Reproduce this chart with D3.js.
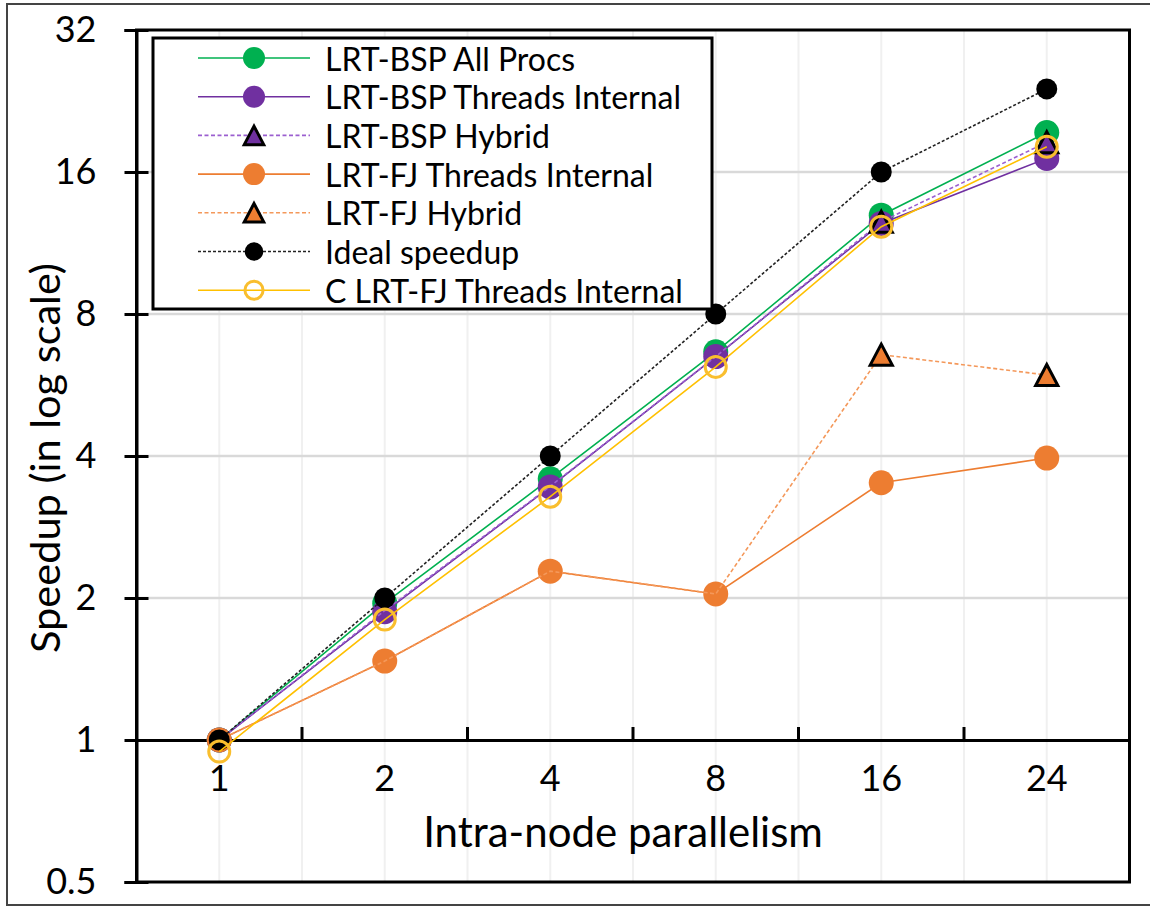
<!DOCTYPE html>
<html>
<head>
<meta charset="utf-8">
<script src="https://cdn.jsdelivr.net/npm/d3@7"></script>
<style>
  html, body { margin: 0; padding: 0; background: #fff; }
  svg { display: block; font-family: Lato, "Open Sans", sans-serif; }
</style>
</head>
<body>
<svg id="chart" width="1150" height="906"></svg>
<script>
// ---------- data ----------
const categories = ["1", "2", "4", "8", "16", "24"];
const yTicks = [0.5, 1, 2, 4, 8, 16, 32];
const bspAllProcs      = [1, 1.95, 3.58, 6.65, 12.96, 19.4];
const bspThreads       = [1, 1.87, 3.44, 6.5, 12.45, 17.1];
const bspHybrid        = [1, 1.88, 3.45, 6.5, 12.55, 18.5];
const bspHybridMarked  = [false, false, false, false, true, true];
const fjThreads        = [1, 1.47, 2.28, 2.04, 3.51, 3.96];
const fjHybrid         = [1, 1.47, 2.28, 2.04, 6.56, 5.94];
const fjHybridMarked   = [false, false, false, false, true, true];
const idealSpeedup     = [1, 2, 4, 8, 16, 24];
const cFjThreads       = [0.945, 1.80, 3.28, 6.18, 12.25, 18.1];

const seriesNames = [
  "LRT-BSP All Procs",
  "LRT-BSP Threads Internal",
  "LRT-BSP Hybrid",
  "LRT-FJ Threads Internal",
  "LRT-FJ Hybrid",
  "Ideal speedup",
  "C LRT-FJ Threads Internal"
];

// styles (separate from data)
const series = [
  {name: seriesNames[0], values: bspAllProcs, color: "#00B050", dash: null, marker: "circle", fill: "#00B050", stroke: "none", r: 12.5},
  {name: seriesNames[1], values: bspThreads, color: "#7030A0", dash: null, marker: "circle", fill: "#7030A0", stroke: "none", r: 12.5},
  {name: seriesNames[2], values: bspHybrid, marked: bspHybridMarked, color: "#9B5FD0", dash: "4,2.5", marker: "triangle", fill: "#7030A0", stroke: "#000", r: 12},
  {name: seriesNames[3], values: fjThreads, color: "#ED7D31", dash: null, marker: "circle", fill: "#ED7D31", stroke: "none", r: 12.5},
  {name: seriesNames[4], values: fjHybrid, marked: fjHybridMarked, color: "#F4985A", dash: "4,2.5", marker: "triangle", fill: "#ED7D31", stroke: "#000", r: 12},
  {name: seriesNames[5], values: idealSpeedup, color: "#222", dash: "3,2", marker: "circle", fill: "#000", stroke: "none", r: 10.5},
  {name: seriesNames[6], values: cFjThreads, color: "#FFC000", dash: null, marker: "ring", fill: "none", stroke: "#F9BE2E", r: 12}
];

// ---------- layout ----------
const svg = d3.select("#chart");
const plot = {left: 136.5, right: 1129.5, top: 30, bottom: 882};

const x = d3.scaleBand().domain(categories).range([plot.left, plot.right]).padding(0);
const xc = c => x(c) + x.bandwidth() / 2;
const y = d3.scaleLog().base(2).domain([0.5, 32]).range([plot.bottom, plot.top]);

// outer border
svg.append("rect").attr("x", 7).attr("y", 4).attr("width", 1150).attr("height", 901)
  .attr("fill", "#fff").attr("stroke", "#444").attr("stroke-width", 2);

// vertical gridlines: centers and boundaries
const vgrid = [];
categories.forEach((c, i) => { vgrid.push(xc(c)); if (i > 0) vgrid.push(x(c)); });
svg.append("g").selectAll("line").data(vgrid).join("line")
  .attr("x1", d => d).attr("x2", d => d).attr("y1", plot.top).attr("y2", plot.bottom)
  .attr("stroke", "#f0f0f0").attr("stroke-width", 2);

// horizontal gridlines
svg.append("g").selectAll("line").data(yTicks.filter(v => v > 1 && v < 32)).join("line")
  .attr("x1", plot.left).attr("x2", plot.right).attr("y1", d => y(d)).attr("y2", d => y(d))
  .attr("stroke", "#d9d9d9").attr("stroke-width", 2.5);

// plot frame
svg.append("rect").attr("x", plot.left).attr("y", plot.top)
  .attr("width", plot.right - plot.left).attr("height", plot.bottom - plot.top)
  .attr("fill", "none").attr("stroke", "#000").attr("stroke-width", 3);

// Y axis
const yAxis = svg.append("g").attr("transform", `translate(${plot.left},0)`)
  .call(d3.axisLeft(y).tickValues(yTicks).tickFormat(d => String(d)).tickSize(12).tickPadding(28));
yAxis.select(".domain").attr("stroke", "#000").attr("stroke-width", 3);
yAxis.selectAll(".tick line").attr("x1", 12).attr("stroke", "#000").attr("stroke-width", 3);
yAxis.selectAll(".tick text").attr("font-size", 36).attr("fill", "#000")
  .attr("font-family", "Lato, sans-serif");

// X axis at y = 1
const xAxisY = y(1);
const xAxis = svg.append("g").attr("transform", `translate(0,${xAxisY})`)
  .call(d3.axisBottom(x).tickSize(0).tickPadding(25));
xAxis.select(".domain").attr("stroke", "#000").attr("stroke-width", 3);
xAxis.selectAll(".tick text").attr("font-size", 36).attr("fill", "#000")
  .attr("font-family", "Lato, sans-serif");
// tick marks at band boundaries (upward)
svg.append("g").selectAll("line").data(categories.slice(1)).join("line")
  .attr("x1", d => x(d)).attr("x2", d => x(d)).attr("y1", xAxisY).attr("y2", xAxisY - 13)
  .attr("stroke", "#000").attr("stroke-width", 3);

// axis titles
svg.append("text").attr("transform", "translate(44,458) rotate(-90)")
  .attr("text-anchor", "middle").attr("dominant-baseline", "central")
  .attr("font-size", 41.5).attr("fill", "#000").text("Speedup (in log scale)");
svg.append("text").attr("x", 623).attr("y", 847).attr("text-anchor", "middle")
  .attr("font-size", 42).attr("fill", "#000").text("Intra-node parallelism");

// ---------- markers ----------
function drawMarker(g, s, cx, cy, scale) {
  const r = s.r * scale;
  if (s.marker === "circle") {
    g.append("circle").attr("cx", cx).attr("cy", cy).attr("r", r).attr("fill", s.fill);
  } else if (s.marker === "ring") {
    g.append("circle").attr("cx", cx).attr("cy", cy).attr("r", r - 1.5)
      .attr("fill", "none").attr("stroke", s.stroke).attr("stroke-width", 3);
  } else if (s.marker === "triangle") {
    const h = r * 1.75, w = r * 1.85;
    const p = `M${cx},${cy - h / 2} L${cx + w / 2},${cy + h / 2} L${cx - w / 2},${cy + h / 2} Z`;
    g.append("path").attr("d", p).attr("fill", s.fill).attr("stroke", s.stroke)
      .attr("stroke-width", 3).attr("stroke-linejoin", "miter");
  }
}

// ---------- series ----------
const line = d3.line().x(d => xc(d.c)).y(d => y(d.v));
const gSeries = svg.append("g");
series.forEach(s => {
  const pts = s.values.map((v, i) => ({c: categories[i], v, m: s.marked ? s.marked[i] : true}));
  const g = gSeries.append("g");
  g.append("path").datum(pts).attr("d", line).attr("fill", "none")
    .attr("stroke", s.color).attr("stroke-width", 1.6)
    .attr("stroke-dasharray", s.dash);
  pts.filter(p => p.m).forEach(p => drawMarker(g, s, xc(p.c), y(p.v), 1));
});

// ---------- legend ----------
const lg = svg.append("g");
lg.append("rect").attr("x", 153).attr("y", 38).attr("width", 559).attr("height", 271)
  .attr("fill", "#fff").attr("stroke", "#000").attr("stroke-width", 3);
series.forEach((s, i) => {
  const ly = 58 + i * 38.7;
  const g = lg.append("g");
  g.append("line").attr("x1", 198).attr("x2", 310).attr("y1", ly).attr("y2", ly)
    .attr("stroke", s.color).attr("stroke-width", 1.6).attr("stroke-dasharray", s.dash);
  drawMarker(g, s, 254, ly, 0.88);
  g.append("text").attr("x", 325).attr("y", ly).attr("dominant-baseline", "central")
    .attr("font-size", 32).attr("fill", "#000").text(s.name);
});
</script>
</body>
</html>
